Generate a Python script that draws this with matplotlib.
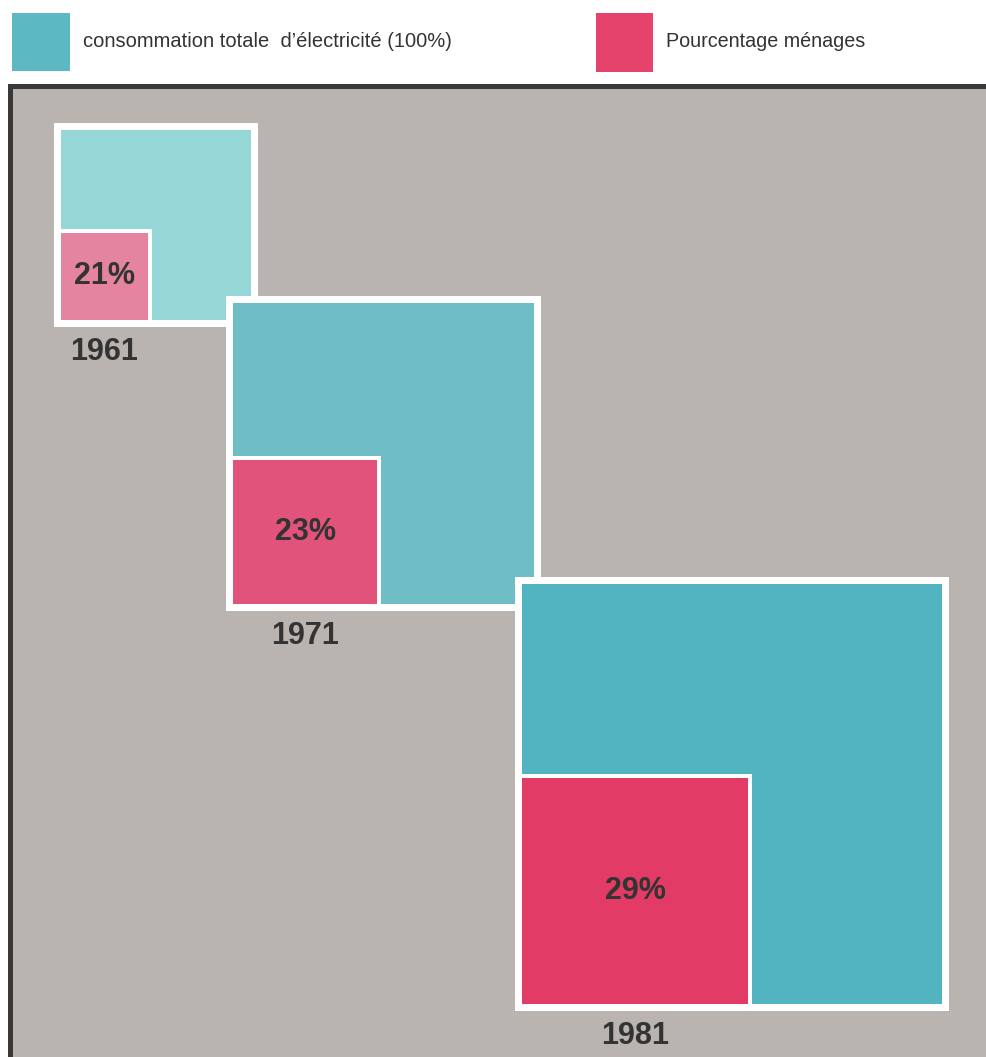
from matplotlib import pyplot as plt
from matplotlib.patches import Rectangle
import math

# donnees
annees = ['1961', '1971', '1981']
conso_relative = [1.0, 1.585, 2.21]      # consommation totale, 1961 = 1 (cote du carre)
part_menages = [21, 23, 29]              # pourcentage menages (surface du carre rose)
legende = ["consommation totale  d\u2019\u00e9lectricit\u00e9 (100%)", "Pourcentage m\u00e9nages"]

# couleurs et mise en page
couleurs_total = ['#95d6d7', '#70bec5', '#52b4c0']
couleurs_menages = ['#e4849e', '#e2537b', '#e23b65']
legende_couleurs = ['#5cb8c2', '#e5436c']
gris = '#b9b4af'
fonce = '#3b3937'
texte = '#333333'

W, H = 987, 1057
cote_base = 190
coins = [(61, 130), (233, 303), (522, 584)]   # coin haut-gauche de chaque carre
bord = 7
bord_rose = 4


def draw_panel(ax):
    ax.add_patch(Rectangle((8, 84), W - 8, H - 84, facecolor=gris, edgecolor='none'))
    ax.add_patch(Rectangle((8, 84), W - 8, 5, facecolor=fonce, edgecolor='none'))
    ax.add_patch(Rectangle((8, 84), 5, H - 84, facecolor=fonce, edgecolor='none'))


def draw_legend(ax):
    ax.add_patch(Rectangle((12, 13), 58, 58, facecolor=legende_couleurs[0], edgecolor='none'))
    ax.text(83, 47, legende[0], fontsize=14.5, color=texte, family='Liberation Sans', va='baseline')
    ax.add_patch(Rectangle((596, 13), 57, 59, facecolor=legende_couleurs[1], edgecolor='none'))
    ax.text(666, 47, legende[1], fontsize=14.2, color=texte, family='Liberation Sans', va='baseline')


def draw_square(ax, i):
    x, y = coins[i]
    s = cote_base * conso_relative[i]
    p = s * math.sqrt(part_menages[i] / 100)
    bas = y + s
    ax.add_patch(Rectangle((x - bord, y - bord), s + 2 * bord, s + 2 * bord, facecolor='white', edgecolor='none'))
    ax.add_patch(Rectangle((x, y), s, s, facecolor=couleurs_total[i], edgecolor='none'))
    ax.add_patch(Rectangle((x - bord, bas - p - bord_rose), p + bord + bord_rose, p + bord_rose + bord,
                           facecolor='white', edgecolor='none'))
    ax.add_patch(Rectangle((x, bas - p), p, p, facecolor=couleurs_menages[i], edgecolor='none'))
    ax.text(x + p / 2, bas - p / 2, str(part_menages[i]) + '%', fontsize=22, fontweight='bold',
            color=texte, family='Liberation Sans', ha='center', va='center')
    ax.text(x + p / 2, bas + 40, annees[i], fontsize=22, fontweight='bold',
            color=texte, family='Liberation Sans', ha='center', va='baseline')


def main() -> None:
    fig = plt.figure(figsize=(W / 100, H / 100), dpi=100)
    ax = fig.add_axes([0, 0, 1, 1])
    ax.set_xlim(0, W)
    ax.set_ylim(H, 0)
    ax.axis('off')
    draw_panel(ax)
    draw_legend(ax)
    for i in range(len(annees)):
        draw_square(ax, i)
    fig.savefig('out.png', dpi=100, facecolor='white')


if __name__ == "__main__":
    main()
